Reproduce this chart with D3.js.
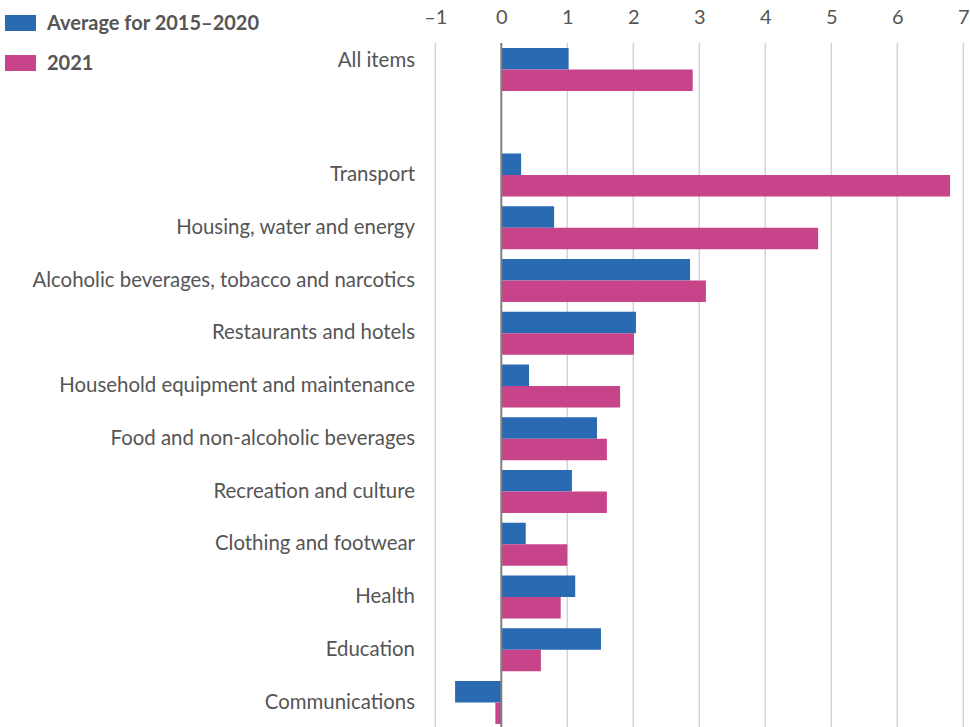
<!DOCTYPE html>
<html>
<head>
<meta charset="utf-8">
<script src="https://cdn.jsdelivr.net/npm/d3@7"></script>
<style>
  html, body { margin: 0; padding: 0; background: #fff; }
  svg text { font-family: "Lato", "Open Sans", sans-serif; }
</style>
</head>
<body>
<svg id="chart" width="970" height="727"></svg>
<script>
const categories = [
  "All items", "",
  "Transport",
  "Housing, water and energy",
  "Alcoholic beverages, tobacco and narcotics",
  "Restaurants and hotels",
  "Household equipment and maintenance",
  "Food and non-alcoholic beverages",
  "Recreation and culture",
  "Clothing and footwear",
  "Health",
  "Education",
  "Communications"
];
const avg2015_2020 = [1.02, null, 0.3, 0.8, 2.86, 2.04, 0.42, 1.45, 1.07, 0.37, 1.12, 1.51, -0.7];
const y2021 =        [2.9, null, 6.8, 4.8, 3.1, 2.01, 1.8, 1.6, 1.6, 1.0, 0.9, 0.6, -0.09];
const seriesNames = ["Average for 2015\u20132020", "2021"];
const seriesColors = ["#2a6ab2", "#c8448a"];
const tickValues = [-1, 0, 1, 2, 3, 4, 5, 6, 7];

const svg = d3.select("#chart");
const W = 970, H = 727;

const x = d3.scaleLinear().domain([-1, 7]).range([435.3, 963.3]);
const y = d3.scalePoint().domain(categories).range([69.5, 702.5]);
const barH = 21.5;

// grid lines
const gridTop = 43;
svg.append("g").selectAll("line")
  .data(tickValues.filter(d => d !== 0))
  .join("line")
  .attr("x1", d => x(d)).attr("x2", d => x(d))
  .attr("y1", gridTop).attr("y2", H)
  .attr("stroke", "#d4d4d4").attr("stroke-width", 1.5);

// top axis labels
const axis = d3.axisTop(x).tickValues(tickValues).tickSize(0)
  .tickFormat(d => d < 0 ? "\u2013" + Math.abs(d) : String(d));
const gAxis = svg.append("g").attr("transform", "translate(0,27)").call(axis);
gAxis.select(".domain").remove();
gAxis.selectAll("text")
  .attr("fill", "#555").attr("font-size", 20)
  .attr("dy", 0)
  .style("font-family", "Lato, 'Open Sans', sans-serif");

// bars
const rows = categories.map((c, i) => ({ c, v: [avg2015_2020[i], y2021[i]] }))
  .filter(r => r.c !== "");
const gBars = svg.append("g");
rows.forEach(r => {
  r.v.forEach((v, s) => {
    gBars.append("rect")
      .attr("x", x(Math.min(0, v)))
      .attr("width", Math.abs(x(v) - x(0)))
      .attr("y", y(r.c) - barH + s * barH)
      .attr("height", barH)
      .attr("fill", seriesColors[s]);
  });
});

// zero line
svg.append("line")
  .attr("x1", x(0)).attr("x2", x(0))
  .attr("y1", gridTop).attr("y2", H)
  .attr("stroke", "#7f7f7f").attr("stroke-width", 2);

// category labels
svg.append("g").selectAll("text")
  .data(rows)
  .join("text")
  .attr("x", 415)
  .attr("y", d => y(d.c) + (d.c === "All items" ? -9.5 : -1))
  .attr("dy", "0.35em")
  .attr("text-anchor", "end")
  .attr("fill", "#555")
  .attr("font-size", 20.4)
  .text(d => d.c);

// legend
const leg = svg.append("g");
seriesNames.forEach((n, i) => {
  leg.append("rect").attr("x", 5).attr("y", 15 + i * 40).attr("width", 31).attr("height", 16)
    .attr("fill", seriesColors[i]);
  leg.append("text").attr("x", 47).attr("y", 23 + i * 40).attr("dy", "0.35em")
    .attr("fill", "#555").attr("font-size", 20).attr("font-weight", "bold")
    .text(n);
});
</script>
</body>
</html>
